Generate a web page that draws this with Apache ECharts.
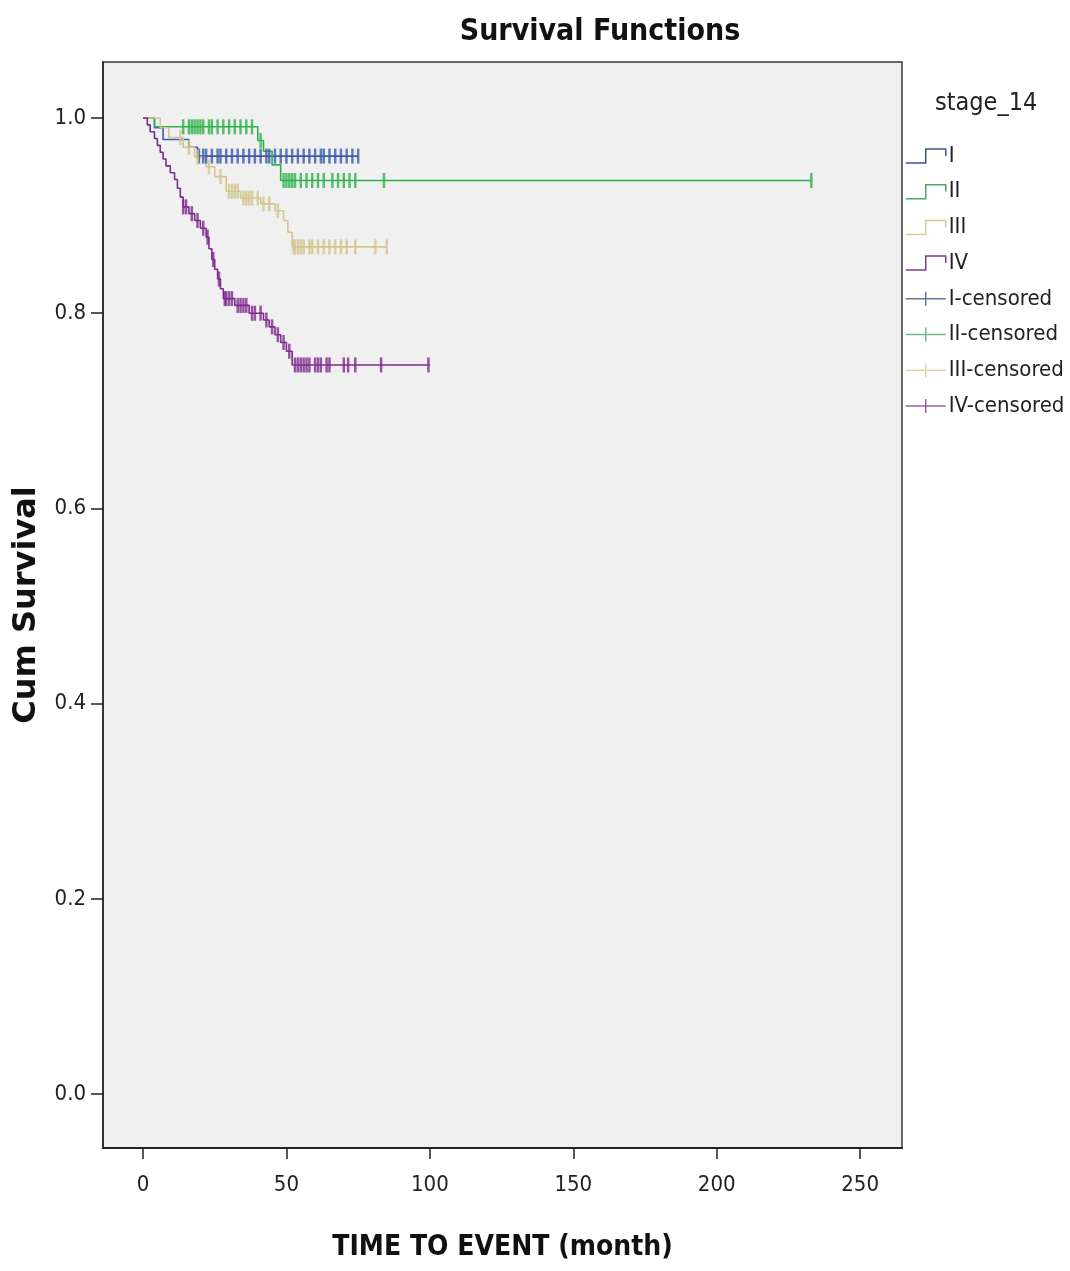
<!DOCTYPE html>
<html>
<head>
<meta charset="utf-8">
<script src="https://cdn.jsdelivr.net/npm/echarts@6/dist/echarts.min.js"></script>
<style>
  html, body { margin: 0; padding: 0; background: #fff; }
  #main { width: 1070px; height: 1271px; }
</style>
</head>
<body>
<div id="main"></div>
<script>
// Kaplan-Meier steps: time (month) -> cum survival after the event
var timeI = [0, 4, 7, 16, 19, 75];
var survI = [1.0, 0.99, 0.978, 0.97, 0.961, 0.961];
var timeII = [0, 4, 40, 42, 45, 48, 233];
var survII = [1.0, 0.991, 0.977, 0.966, 0.952, 0.936, 0.936];
var timeIII = [0, 6, 9, 14, 18, 22, 25, 29, 34, 41, 46, 49, 50.5, 52, 85];
var survIII = [1.0, 0.99, 0.98, 0.97, 0.96, 0.95, 0.94, 0.925, 0.918, 0.912, 0.905, 0.895, 0.883, 0.868, 0.868];
var timeIV = [0, 1.5, 2.5, 4, 5, 6, 7, 8, 9.5, 11, 12, 13, 14, 16, 18, 20, 22, 23, 24, 25, 26, 27, 28, 32, 37, 42, 44, 46, 48, 50, 52, 100];
var survIV = [1.0, 0.993, 0.986, 0.979, 0.972, 0.965, 0.958, 0.951, 0.944, 0.937, 0.928, 0.919, 0.909, 0.902, 0.895, 0.887, 0.878, 0.866, 0.855, 0.845, 0.835, 0.825, 0.815, 0.808, 0.8, 0.793, 0.786, 0.778, 0.77, 0.761, 0.747, 0.747];

// censored observations (months)
var censI = [19.5, 21, 22, 24, 26, 27, 29, 31, 33, 35, 37, 39, 41, 43, 44, 46, 48, 50, 52, 54, 56, 58, 60, 62, 63, 65, 67, 69, 71, 73, 75];
var censII = [14, 16, 17, 18, 19, 20, 21, 23, 24, 26, 28, 30, 32, 34, 36, 38, 41, 49, 50, 51, 52, 53, 55, 57, 59, 61, 63, 66, 68, 70, 72, 74, 84, 233];
var censIII = [13, 16, 19, 23, 27, 30, 31, 32, 33, 35, 36, 37, 38, 40, 42, 44, 47, 52.5, 53, 54, 55, 56, 58, 59, 61, 63, 65, 67, 69, 71, 74, 81, 85];
var censIV = [14, 15, 17, 19, 21, 22.5, 24.5, 26.5, 28.5, 29, 30, 31, 33, 34, 35, 36, 38, 39, 41, 43, 45, 47, 49, 51, 53, 54, 55, 56, 57, 58, 60, 61, 62, 64, 65, 70, 71.5, 74, 83, 99.5];

var stageNames = ['I', 'II', 'III', 'IV'];
var xTicks = [0, 50, 100, 150, 200, 250];
var yTicks = [0, 0.2, 0.4, 0.6, 0.8, 1.0];

var colors = ['#3B5BA9', '#2DB24E', '#D3C58D', '#7E2B8F'];
var legendColors = ['#3F5784', '#4FA56A', '#D8CB98', '#7A3F80'];
var narrow = '"Liberation Sans Narrow", "DejaVu Sans Condensed", "Liberation Sans", sans-serif';

function pairs(t, s) {
    return t.map(function (v, i) { return [v, s[i]]; });
}
// survival value of the step curve at time x (mark sits on the curve)
function onCurve(t, s, cens) {
    return cens.map(function (x) {
        var k = 0;
        for (var i = 0; i < t.length; i++) { if (t[i] <= x) k = i; }
        return [x, s[k]];
    });
}

var steps = [[timeI, survI], [timeII, survII], [timeIII, survIII], [timeIV, survIV]];
var cens = [censI, censII, censIII, censIV];

var series = [];
stageNames.forEach(function (n, i) {
    series.push({
        name: n, type: 'line', step: 'end', symbol: 'none',
        data: pairs(steps[i][0], steps[i][1]),
        lineStyle: { color: colors[i], width: 1.6 },
        itemStyle: { color: colors[i] },
        z: 2 + i
    });
});
stageNames.forEach(function (n, i) {
    series.push({
        name: n + '-censored', type: 'scatter', symbol: 'rect', symbolSize: [2.5, 15],
        data: onCurve(steps[i][0], steps[i][1], cens[i]),
        itemStyle: { color: colors[i] },
        z: 6 + i
    });
});

var stepIcon = 'path://M0,14L20,14L20,0L40,0L40,7';
var crossIcon = 'path://M0,7L40,7M20,0L20,14';
var legendData = [];
stageNames.forEach(function (n, i) {
    legendData.push({ name: n, icon: stepIcon, itemStyle: { color: 'rgba(0,0,0,0)', borderColor: legendColors[i], borderWidth: 1.5 } });
});
stageNames.forEach(function (n, i) {
    legendData.push({ name: n + '-censored', icon: crossIcon, itemStyle: { color: 'rgba(0,0,0,0)', borderColor: legendColors[i], borderWidth: 1.5 } });
});

var chart = echarts.init(document.getElementById('main'));
chart.setOption({
    animation: false,
    backgroundColor: '#ffffff',
    title: [
        { text: 'Survival Functions', left: 595, top: 12, textAlign: 'center',
          textStyle: { fontFamily: narrow, fontWeight: 'bold', fontSize: 30, color: '#111' } },
        { text: 'stage_14', left: 930, top: 86,
          textStyle: { fontFamily: narrow, fontWeight: 'normal', fontSize: 25, color: '#222' } }
    ],
    legend: {
        orient: 'vertical', left: 905, top: 144, padding: 0,
        itemWidth: 40, itemHeight: 14, itemGap: 11.7,
        textStyle: { fontFamily: narrow, fontSize: 22, lineHeight: 24, color: '#222', padding: [0, 0, 0, -2] },
        data: legendData
    },
    grid: {
        left: 103, top: 62, width: 799, height: 1086,
        containLabel: false, outerBoundsMode: 'none',
        show: true, backgroundColor: '#F0F0F0', borderColor: '#3a3a3a', borderWidth: 1.5
    },
    xAxis: {
        type: 'value', min: -13.95, max: 264.6,
        name: 'TIME TO EVENT (month)', nameLocation: 'middle', nameGap: 86,
        nameTextStyle: { fontFamily: narrow, fontWeight: 'bold', fontSize: 28, color: '#111' },
        axisLine: { show: true, onZero: false, lineStyle: { color: '#222', width: 2 } },
        axisTick: { show: true, length: 11, customValues: xTicks, lineStyle: { color: '#222', width: 1.5 } },
        axisLabel: { customValues: xTicks, margin: 26, fontFamily: narrow, fontSize: 22, color: '#222' },
        splitLine: { show: false }
    },
    yAxis: {
        type: 'value', min: -0.0553, max: 1.0574,
        name: 'Cum Survival', nameLocation: 'middle', nameRotate: 90, nameGap: 60,
        nameTextStyle: { fontFamily: '"DejaVu Sans", sans-serif', fontWeight: 'bold', fontSize: 32, color: '#111' },
        axisLine: { show: true, onZero: false, lineStyle: { color: '#222', width: 1.5 } },
        axisTick: { show: true, length: 12, customValues: yTicks, lineStyle: { color: '#222', width: 1.5 } },
        axisLabel: { customValues: yTicks, margin: 17, fontFamily: narrow, fontSize: 22, color: '#222',
                     formatter: function (v) { return v.toFixed(1); } },
        splitLine: { show: false }
    },
    series: series
});
</script>
</body>
</html>
